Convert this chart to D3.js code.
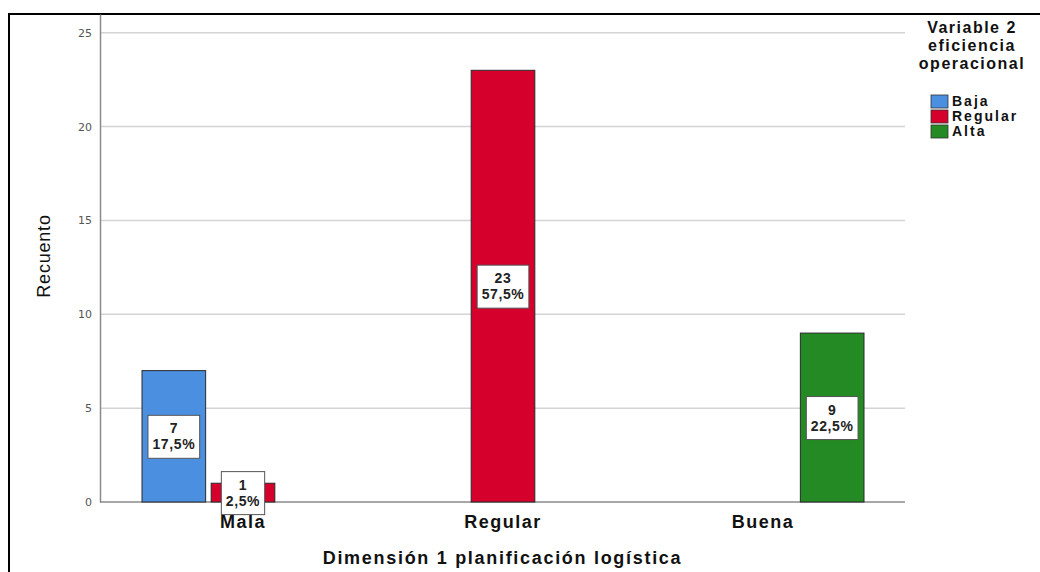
<!DOCTYPE html>
<html lang="es">
<head>
    <meta charset="UTF-8">
    <title>Recuento</title>
    <script src="https://cdnjs.cloudflare.com/ajax/libs/d3/7.8.5/d3.min.js"></script>
    <style>
        body { margin: 0; background: #fff; }
        text { font-family: "Liberation Sans", Arial, sans-serif; }
    </style>
</head>
<body>
    <div id="chart"></div>
    <script>
        // data
        var categories = ["Mala", "Regular", "Buena"];
        var series = ["Baja", "Regular", "Alta"];
        var colors = ["#4a8fe0", "#d5002c", "#248a24"];
        // counts per category, one value per series
        var baja = [7, 0, 0];
        var regular = [1, 23, 0];
        var alta = [0, 0, 9];
        var percents = {"7": "17,5%", "1": "2,5%", "23": "57,5%", "9": "22,5%"};
        var yTicks = [0, 5, 10, 15, 20, 25];

        var width = 1040, height = 572;
        var svg = d3.select("#chart").append("svg")
            .attr("width", width)
            .attr("height", height);

        // outer frame
        svg.append("rect")
            .attr("x", 9).attr("y", 14)
            .attr("width", 1100).attr("height", 700)
            .attr("fill", "none")
            .attr("stroke", "#000")
            .attr("stroke-width", 2);

        var plot = {left: 100, right: 905, top: 14, bottom: 502};

        var y = d3.scaleLinear().domain([0, 26]).range([plot.bottom, plot.top]);
        var x0 = d3.scaleBand().domain(categories).range([113, 893]);
        var x1 = d3.scaleBand().domain(series).range([-101, 101]).paddingInner(0.08);

        // grid
        svg.append("g").selectAll("line")
            .data(yTicks.filter(function(d){ return d > 0; }))
            .enter().append("line")
            .attr("x1", plot.left).attr("x2", plot.right)
            .attr("y1", function(d){ return y(d); })
            .attr("y2", function(d){ return y(d); })
            .attr("stroke", "#d4d4d4")
            .attr("stroke-width", 1.5);

        // y axis
        var yAxis = svg.append("g")
            .attr("transform", "translate(" + plot.left + ",0)")
            .call(d3.axisLeft(y).tickValues(yTicks).tickSize(0).tickPadding(8));
        yAxis.select(".domain").attr("stroke", "#8a8a8a").attr("stroke-width", 1.5);
        yAxis.selectAll("text")
            .attr("fill", "#555")
            .style("font-size", "11px")
            .style("font-family", "'DejaVu Sans', sans-serif");

        // x axis line
        svg.append("line")
            .attr("x1", plot.left).attr("x2", plot.right)
            .attr("y1", plot.bottom).attr("y2", plot.bottom)
            .attr("stroke", "#8a8a8a")
            .attr("stroke-width", 1.5);

        // flatten into bars
        var values = [baja, regular, alta];
        var bars = [];
        categories.forEach(function(c, i){
            series.forEach(function(s, j){
                if (values[j][i] > 0) {
                    bars.push({cat: c, ser: s, color: colors[j], value: values[j][i]});
                }
            });
        });

        svg.append("g").selectAll("rect")
            .data(bars)
            .enter().append("rect")
            .attr("x", function(d){ return x0(d.cat) + x0.bandwidth() / 2 + x1(d.ser); })
            .attr("width", x1.bandwidth())
            .attr("y", function(d){ return y(d.value); })
            .attr("height", function(d){ return y(0) - y(d.value); })
            .attr("fill", function(d){ return d.color; })
            .attr("stroke", "#2a2a2a")
            .attr("stroke-width", 1);

        // labels inside bars
        var labels = svg.append("g").selectAll("g")
            .data(bars)
            .enter().append("g")
            .attr("transform", function(d){
                var cx = x0(d.cat) + x0.bandwidth() / 2 + x1(d.ser) + x1.bandwidth() / 2;
                return "translate(" + cx + "," + y(d.value / 2) + ")";
            });
        var boxes = labels.append("rect")
            .attr("fill", "#fff")
            .attr("stroke", "#555")
            .attr("stroke-width", 1);
        var lt = labels.append("text")
            .attr("text-anchor", "middle")
            .attr("fill", "#222")
            .style("font-size", "14px")
            .style("font-weight", "bold")
            .style("letter-spacing", "0.6px");
        lt.append("tspan").attr("x", 0).attr("y", -3).text(function(d){ return d.value; });
        lt.append("tspan").attr("x", 0).attr("y", 13).text(function(d){ return percents[d.value]; });
        boxes.each(function(d){
            var w = d3.select(this.parentNode).select("text").node().getBBox().width + 9;
            d3.select(this)
                .attr("x", -w / 2).attr("width", w)
                .attr("y", -21).attr("height", 43);
        });

        // category labels
        svg.append("g").selectAll("text")
            .data(categories)
            .enter().append("text")
            .attr("x", function(d){ return x0(d) + x0.bandwidth() / 2; })
            .attr("y", 528)
            .attr("text-anchor", "middle")
            .attr("fill", "#111")
            .style("font-size", "18px")
            .style("font-weight", "bold")
            .style("letter-spacing", "1.5px")
            .text(function(d){ return d; });

        // axis titles
        svg.append("text")
            .attr("x", (plot.left + plot.right) / 2)
            .attr("y", 564)
            .attr("text-anchor", "middle")
            .attr("fill", "#111")
            .style("font-size", "18px")
            .style("font-weight", "bold")
            .style("letter-spacing", "1.7px")
            .text("Dimensión 1 planificación logística");

        svg.append("text")
            .attr("transform", "translate(50,256) rotate(-90)")
            .attr("text-anchor", "middle")
            .attr("fill", "#111")
            .style("font-size", "18px")
            .style("letter-spacing", "0.8px")
            .text("Recuento");

        // legend
        var legTitle = ["Variable 2", "eficiencia", "operacional"];
        svg.append("g").selectAll("text")
            .data(legTitle)
            .enter().append("text")
            .attr("x", 972)
            .attr("y", function(d, i){ return 33 + i * 18; })
            .attr("text-anchor", "middle")
            .attr("fill", "#111")
            .style("font-size", "16px")
            .style("font-weight", "bold")
            .style("letter-spacing", "1.5px")
            .text(function(d){ return d; });

        var leg = svg.append("g").selectAll("g")
            .data(series)
            .enter().append("g")
            .attr("transform", function(d, i){ return "translate(931," + (95 + i * 15) + ")"; });
        leg.append("rect")
            .attr("width", 17).attr("height", 13)
            .attr("fill", function(d, i){ return colors[i]; })
            .attr("stroke", "#333")
            .attr("stroke-width", 0.8);
        leg.append("text")
            .attr("x", 21).attr("y", 11)
            .attr("fill", "#111")
            .style("font-size", "14px")
            .style("font-weight", "bold")
            .style("letter-spacing", "2px")
            .text(function(d){ return d; });
    </script>
</body>
</html>
